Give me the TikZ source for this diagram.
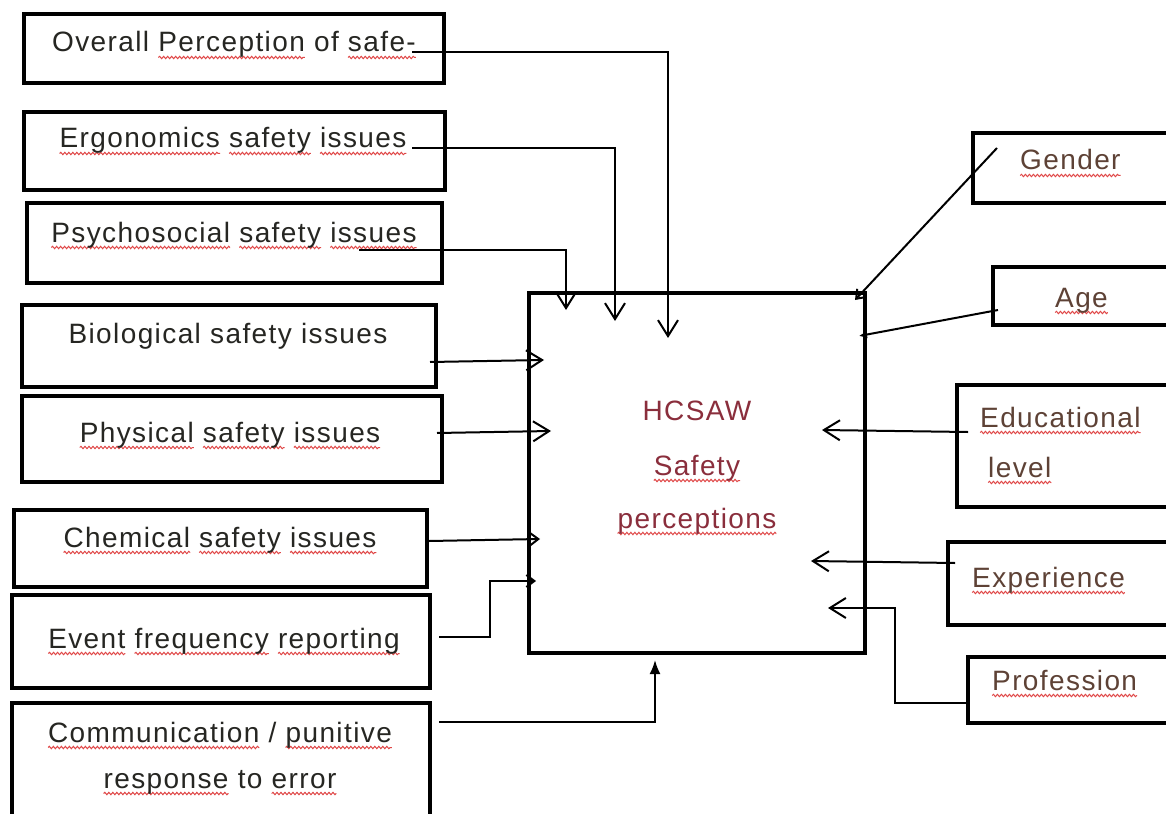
\documentclass[tikz,border=0pt]{standalone}
\usepackage{fontspec}
\setmainfont{Liberation Sans}[LetterSpace=5]
\usetikzlibrary{arrows.meta,calc,decorations.pathmorphing}

\definecolor{squig}{HTML}{E04848}
\definecolor{inktxt}{HTML}{262622}
\definecolor{coretxt}{HTML}{8A2E3C}
\definecolor{sidetxt}{HTML}{5E4236}

% red wavy underline under a single word
\newsavebox\spellbox
\newlength\spellwd
\newcommand\spellmark[1]{%
  \sbox\spellbox{#1}\setlength\spellwd{\wd\spellbox}%
  \leavevmode\rlap{\tikz[overlay]\draw[squig, line width=1pt,%
      decorate, decoration={snake, amplitude=1.2pt, segment length=4pt}]%
      (0pt,-5.5pt) -- (\spellwd,-5.5pt);}%
  \usebox\spellbox}
\newcommand\fsz{\fontsize{28}{34}\selectfont}

\tikzset{
  frame/.style={draw, line width=4pt, inner sep=0pt},
  lbl/.style={inner sep=0pt, anchor=base, text=inktxt, font=\fsz},
  corelbl/.style={lbl, text=coretxt},
  sidelbl/.style={lbl, anchor=base west, text=sidetxt},
  conn/.style={line width=2pt},
  openhead/.style={-{Straight Barb[length=16pt,width=20pt]}},
  smallhead/.style={-{Straight Barb[length=8pt,width=12pt]}},
  solidhead/.style={-{Latex[length=14pt,width=11pt]}},
  tinyhead/.style={-{Latex[length=8pt,width=8pt]}},
}

\begin{document}
\begin{tikzpicture}[x=1pt,y=-1pt]
\fill[white] (0,0) rectangle (1166,813);
\useasboundingbox (0,0) rectangle (1166,813);
\clip (0,0) rectangle (1166,813);

% left-hand factor boxes
\node[frame, minimum width=420pt, minimum height=69pt] (ov)   at (234,48.5)  {};
\node[frame, minimum width=421pt, minimum height=78pt] (er)   at (234.5,151) {};
\node[frame, minimum width=415pt, minimum height=80pt] (ps)   at (234.5,243) {};
\node[frame, minimum width=414pt, minimum height=82pt] (bio)  at (229,346)   {};
\node[frame, minimum width=420pt, minimum height=86pt] (phy)  at (232,439)   {};
\node[frame, minimum width=413pt, minimum height=77pt] (chem) at (220.5,548.5) {};
\node[frame, minimum width=418pt, minimum height=93pt] (evt)  at (221,641.5) {};
\node[frame, minimum width=418pt, minimum height=137pt] (com) at (221,771.5) {};

% central box
\node[frame, minimum width=336pt, minimum height=360pt] (core) at (697,473) {};

% right-hand factor boxes
\node[frame, minimum width=217pt, minimum height=70pt]  (gen) at (1081.5,168) {};
\node[frame, minimum width=197pt, minimum height=58pt]  (age) at (1091.5,296) {};
\node[frame, minimum width=233pt, minimum height=122pt] (edu) at (1073.5,446) {};
\node[frame, minimum width=242pt, minimum height=83pt]  (exp) at (1069,583.5) {};
\node[frame, minimum width=222pt, minimum height=66pt]  (pro) at (1079,690)   {};

% labels
\node[lbl] (tov)   at (234,52)  {Overall \spellmark{Perception} of \spellmark{safe-}};
\node[lbl] (ter)   at (233,148) {\spellmark{Ergonomics} \spellmark{safety} \spellmark{issues}};
\node[lbl] (tps)   at (234,242) {\spellmark{Psychosocial} \spellmark{safety} \spellmark{issues}};
\node[lbl] (tbio)  at (228,343) {Biological safety issues};
\node[lbl] (tphy)  at (230,442) {\spellmark{Physical} \spellmark{safety} \spellmark{issues}};
\node[lbl] (tchem) at (220,547) {\spellmark{Chemical} \spellmark{safety} \spellmark{issues}};
\node[lbl] (tevt)  at (224,648) {\spellmark{Event} \spellmark{frequency} \spellmark{reporting}};
\node[lbl] (tcom1) at (220,742) {\spellmark{Communication} / \spellmark{punitive}};
\node[lbl] (tcom2) at (220,788) {\spellmark{response} to \spellmark{error}};

\node[corelbl] (tc1) at (697,420) {HCSAW};
\node[corelbl] (tc2) at (697,475) {\spellmark{Safety}};
\node[corelbl] (tc3) at (697,528) {\spellmark{perceptions}};

\node[sidelbl] (tgen)  at (1020,170) {\spellmark{Gender}};
\node[sidelbl] (tage)  at (1055,307) {\spellmark{Age}};
\node[sidelbl] (tedu1) at (980,427)  {\spellmark{Educational}};
\node[sidelbl] (tedu2) at (988,477)  {\spellmark{level}};
\node[sidelbl] (texp)  at (972,587)  {\spellmark{Experience}};
\node[sidelbl] (tpro)  at (992,690)  {\spellmark{Profession}};

% connectors from the left
\draw[conn, openhead]  ($(ov.east)+(-34,3.5)$) -| ($(core.north west)+(141,47)$);
\draw[conn, openhead]  ($(er.east)+(-35,-3)$)  -| ($(core.north west)+(88,30)$);
\draw[conn, openhead]  ($(ps.east)+(-85,7)$)   -| ($(core.north west)+(39,19)$);
\draw[conn, openhead]  ($(bio.east)+(-8,16)$)  -- ($(core.north west)+(17,69)$);
\draw[conn, openhead]  ($(phy.east)+(-7,-6)$)  -- ($(core.north west)+(24,140)$);
\draw[conn, smallhead] ($(chem.east)+(0,-7.5)$) -- ($(core.north west)+(13,248)$);
\draw[conn, smallhead] ($(evt.east)+(7,-4.5)$) -- ++(51,0) |- ($(core.north west)+(9,290)$);
\draw[conn, solidhead] ($(com.east)+(7,-49.5)$) -| ($(core.south west)+(128,5)$);

% connectors from the right
\draw[conn, smallhead] ($(gen.west)+(26,-20)$) -- ($(core.north east)+(-12,9)$);
\draw[conn, tinyhead]  ($(age.west)+(7,14)$)   -- ($(core.north east)+(-8,45)$);
\draw[conn, openhead]  ($(edu.west)+(13,-14)$) -- ($(core.north east)+(-45,139)$);
\draw[conn, openhead]  ($(exp.west)+(9,-20.5)$) -- ($(core.north east)+(-56,270)$);
\draw[conn, openhead]  ($(pro.west)+(0,13)$) -- ++(-71,0) |- ($(core.north east)+(-39,317)$);
\end{tikzpicture}
\end{document}
